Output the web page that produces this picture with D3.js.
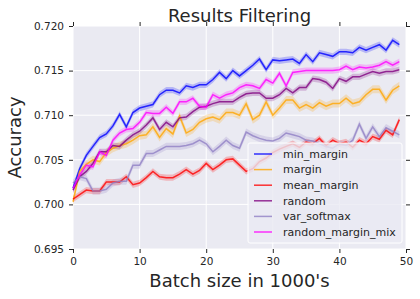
<!DOCTYPE html>
<html lang="en">
  <head>
    <meta charset="utf-8">
    <title>Results Filtering</title>
    <script src="https://cdnjs.cloudflare.com/ajax/libs/d3/7.8.5/d3.min.js"></script>
    <style>
      body { margin: 0; background: #fff; }
      text { font-family: "DejaVu Sans", sans-serif; fill: #262626; }
    </style>
  </head>
  <body>
    <div class="chart"></div>
    <script type="text/javascript">
      // batch sizes (in 1000's)
      var batches = [0,1,2,3,4,5,6,7,8,9,10,11,12,13,14,15,16,17,18,19,20,21,22,23,24,
                     25,26,27,28,29,30,31,32,33,34,35,36,37,38,39,40,41,42,43,44,45,46,47,48,49];

      var minMargin = [0.7018,0.7040,0.7055,0.7065,0.7075,0.7079,0.7088,0.7101,0.7087,0.7103,
                       0.7108,0.7110,0.7112,0.7123,0.7128,0.7128,0.7125,0.7133,0.7131,0.7134,
                       0.7134,0.7140,0.7148,0.7141,0.7150,0.7144,0.7150,0.7156,0.7163,0.7151,
                       0.7162,0.7161,0.7162,0.7163,0.7158,0.7168,0.7160,0.7170,0.7168,0.7166,
                       0.7171,0.7171,0.7170,0.7176,0.7173,0.7176,0.7179,0.7173,0.7184,0.7179];

      var margin_ = [0.7003,0.7037,0.7045,0.7050,0.7048,0.7058,0.7063,0.7066,0.7068,0.7072,
                     0.7077,0.7078,0.7087,0.7075,0.7085,0.7079,0.7099,0.7080,0.7084,0.7092,
                     0.7096,0.7098,0.7095,0.7103,0.7103,0.7100,0.7113,0.7095,0.7100,0.7115,
                     0.7100,0.7108,0.7117,0.7117,0.7108,0.7112,0.7108,0.7114,0.7110,0.7113,
                     0.7113,0.7119,0.7113,0.7115,0.7123,0.7129,0.7129,0.7117,0.7128,0.7133];

      var meanMargin = [0.7006,0.7011,0.7016,0.7015,0.7015,0.7025,0.7025,0.7025,0.7031,0.7022,
                        0.7024,0.7030,0.7037,0.7031,0.7030,0.7030,0.7034,0.7039,0.7034,0.7038,
                        0.7046,0.7039,0.7044,0.7050,0.7051,0.7044,0.7037,0.7040,0.7048,0.7052,
                        0.7058,0.7062,0.7065,0.7068,0.7064,0.7070,0.7068,0.7074,0.7066,0.7072,
                        0.7068,0.7070,0.7064,0.7072,0.7068,0.7076,0.7073,0.7083,0.7078,0.7095];

      var random_ = [0.7016,0.7031,0.7037,0.7046,0.7059,0.7059,0.7066,0.7065,0.7072,0.7078,
                     0.7082,0.7089,0.7097,0.7084,0.7092,0.7087,0.7097,0.7098,0.7104,0.7109,
                     0.7110,0.7113,0.7115,0.7115,0.7115,0.7120,0.7124,0.7125,0.7125,0.7119,
                     0.7119,0.7123,0.7130,0.7125,0.7131,0.7131,0.7141,0.7140,0.7137,0.7130,
                     0.7141,0.7138,0.7143,0.7143,0.7146,0.7149,0.7147,0.7149,0.7149,0.7151];

      var varSoftmax = [0.7024,0.7031,0.7029,0.7015,0.7015,0.7017,0.7024,0.7026,0.7026,0.7044,
                        0.7044,0.7057,0.7057,0.7061,0.7065,0.7065,0.7065,0.7066,0.7068,0.7072,
                        0.7068,0.7059,0.7065,0.7072,0.7066,0.7063,0.7081,0.7077,0.7074,0.7072,
                        0.7071,0.7074,0.7080,0.7078,0.7076,0.7072,0.7071,0.7068,0.7065,0.7063,
                        0.7068,0.7066,0.7072,0.7090,0.7074,0.7087,0.7076,0.7086,0.7082,0.7078];

      var randomMarginMix = [0.7018,0.7033,0.7044,0.7042,0.7059,0.7055,0.7072,0.7080,0.7084,0.7085,
                             0.7092,0.7103,0.7102,0.7102,0.7109,0.7102,0.7115,0.7115,0.7119,0.7110,
                             0.7109,0.7123,0.7119,0.7123,0.7125,0.7131,0.7134,0.7133,0.7130,0.7140,
                             0.7136,0.7147,0.7133,0.7148,0.7149,0.7150,0.7150,0.7150,0.7150,0.7150,
                             0.7151,0.7155,0.7151,0.7154,0.7153,0.7154,0.7156,0.7160,0.7156,0.7160];

      // half width of the confidence band per series
      var ciHalf = [0.00035, 0.00045, 0.00035, 0.00035, 0.0004, 0.00035];

      var names = ["min_margin", "margin", "mean_margin", "random", "var_softmax", "random_margin_mix"];
      var colors = ["#0000ff", "#ffa500", "#ff0000", "#800080", "#9080c4", "#ff00ff"];
      var allValues = [minMargin, margin_, meanMargin, random_, varSoftmax, randomMarginMix];

      var xTicks = [0, 10, 20, 30, 40, 50];
      var yTicks = [0.695, 0.700, 0.705, 0.710, 0.715, 0.720];

      var series = names.map(function(n, i) {
        return {
          name: n, color: colors[i], ci: ciHalf[i],
          values: batches.map(function(b, j) { return {x: b, y: allValues[i][j]}; })
        };
      });

      var margin = {top: 26, right: 14, bottom: 50, left: 73},
          width = 420 - margin.left - margin.right,
          height = 299 - margin.top - margin.bottom;

      var root = d3.select(".chart").append("svg")
          .attr("width", 420)
          .attr("height", 299);

      var svg = root.append("g")
          .attr("transform", "translate(" + margin.left + "," + margin.top + ")");

      var x = d3.scaleLinear().domain([0, 50]).range([0, width]);
      var y = d3.scaleLinear().domain([0.695, 0.720]).range([height, 0]);

      svg.append("rect")
          .attr("width", width)
          .attr("height", height)
          .attr("fill", "#eaeaf2");

      // grid
      svg.append("g").selectAll("line.gx")
          .data(xTicks).enter().append("line")
          .attr("x1", function(d) { return x(d); })
          .attr("x2", function(d) { return x(d); })
          .attr("y1", 0).attr("y2", height)
          .attr("stroke", "#fff").attr("stroke-width", 1);

      svg.append("g").selectAll("line.gy")
          .data(yTicks).enter().append("line")
          .attr("y1", function(d) { return y(d); })
          .attr("y2", function(d) { return y(d); })
          .attr("x1", 0).attr("x2", width)
          .attr("stroke", "#fff").attr("stroke-width", 1);

      // axes (ticks on all four sides, labels only on left/bottom)
      function styleAxis(g) {
        g.select(".domain").remove();
        g.selectAll(".tick line").attr("stroke", "#262626").attr("stroke-width", 1);
        g.selectAll(".tick text").attr("fill", "#262626")
          .style("font-family", "DejaVu Sans, sans-serif").style("font-size", "10.5px");
      }

      svg.append("g")
          .attr("transform", "translate(0," + height + ")")
          .call(d3.axisBottom(x).tickValues(xTicks).tickFormat(d3.format("d")).tickSize(4).tickPadding(5))
          .call(styleAxis);

      svg.append("g")
          .call(d3.axisLeft(y).tickValues(yTicks).tickFormat(d3.format(".3f")).tickSize(4).tickPadding(5))
          .call(styleAxis);

      svg.append("g")
          .call(d3.axisTop(x).tickValues(xTicks).tickFormat("").tickSize(4))
          .call(styleAxis);

      svg.append("g")
          .attr("transform", "translate(" + width + ",0)")
          .call(d3.axisRight(y).tickValues(yTicks).tickFormat("").tickSize(4))
          .call(styleAxis);

      // bands and lines
      var line = d3.line()
          .x(function(d) { return x(d.x); })
          .y(function(d) { return y(d.y); });

      series.forEach(function(s) {
        var area = d3.area()
            .x(function(d) { return x(d.x); })
            .y0(function(d) { return y(d.y - s.ci); })
            .y1(function(d) { return y(d.y + s.ci); });
        svg.append("path")
            .attr("d", area(s.values))
            .attr("fill", s.color)
            .attr("fill-opacity", 0.22);
      });

      series.forEach(function(s) {
        svg.append("path")
            .attr("d", line(s.values))
            .attr("fill", "none")
            .attr("stroke", s.color)
            .attr("stroke-opacity", 0.8)
            .attr("stroke-width", 1.5);
      });

      // legend
      var legend = svg.append("g")
          .attr("transform", "translate(" + (248 - margin.left) + "," + (143 - margin.top) + ")");

      legend.append("rect")
          .attr("width", 154).attr("height", 100)
          .attr("rx", 2).attr("ry", 2)
          .attr("fill", "#eaeaf2").attr("fill-opacity", 0.8)
          .attr("stroke", "#fff").attr("stroke-width", 1);

      var item = legend.selectAll("g.item")
          .data(series).enter().append("g")
          .attr("transform", function(d, i) { return "translate(0," + (11 + i * 15.6) + ")"; });

      item.append("line")
          .attr("x1", 6).attr("x2", 24)
          .attr("stroke", function(d) { return d.color; })
          .attr("stroke-opacity", 0.8)
          .attr("stroke-width", 1.5);

      item.append("text")
          .attr("x", 35).attr("dy", "0.35em")
          .style("font-size", "11px")
          .text(function(d) { return d.name; });

      // titles
      root.append("text")
          .attr("x", margin.left + width / 2).attr("y", 21.5)
          .attr("text-anchor", "middle")
          .style("font-size", "18px")
          .text("Results Filtering");

      root.append("text")
          .attr("x", margin.left + width / 2).attr("y", 287)
          .attr("text-anchor", "middle")
          .style("font-size", "18px")
          .text("Batch size in 1000's");

      root.append("text")
          .attr("transform", "translate(21," + (margin.top + height / 2) + ") rotate(-90)")
          .attr("text-anchor", "middle")
          .style("font-size", "18px")
          .text("Accuracy");
    </script>
  </body>
</html>
